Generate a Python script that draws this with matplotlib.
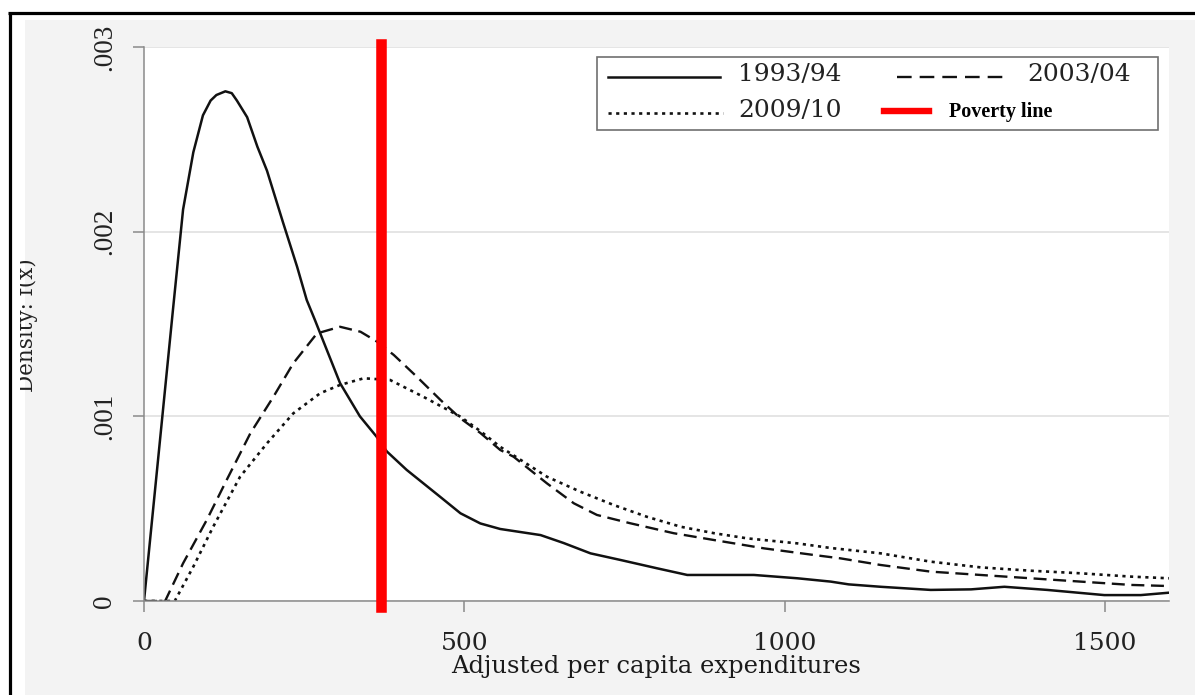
import matplotlib
matplotlib.use("Agg")
import matplotlib.pyplot as plt
from matplotlib.lines import Line2D
from matplotlib.patches import Rectangle
from matplotlib.transforms import Bbox, TransformedBbox

# ---- kernel density estimates of adjusted per capita expenditures ----
x_1993 = [0, 45, 61, 77, 92, 104, 113, 127, 137, 145, 161, 177, 192, 217, 239,
          254, 267, 275, 306, 337, 363, 379, 410, 462, 494, 525, 556, 619, 655,
          697, 744, 801, 848, 900, 952, 1020, 1072, 1100, 1150, 1228, 1291,
          1343, 1410, 1499, 1556, 1600]
d_1993 = [0, 0.00157, 0.00212, 0.00243, 0.00263, 0.00271, 0.00274, 0.00276,
          0.00275, 0.00271, 0.00262, 0.00246, 0.00233, 0.00205, 0.00181,
          0.00163, 0.00152, 0.00145, 0.00118, 0.00100, 0.00089, 0.00081,
          0.00071, 0.000565, 0.000475, 0.00042, 0.00039, 0.000357, 0.000314,
          0.000258, 0.000222, 0.000177, 0.000141, 0.000141, 0.000141, 0.000123,
          0.000105, 0.00009, 0.000077, 0.00006, 0.000063, 0.000077, 0.00006,
          0.000032, 0.000032, 0.000045]

x_2003 = [0, 33, 61, 98, 129, 166, 202, 233, 270, 306, 338, 364, 390, 426,
          463, 494, 525, 556, 577, 629, 671, 707, 759, 827, 890, 968, 1046,
          1087, 1150, 1228, 1306, 1384, 1462, 1541, 1600]
d_2003 = [0, 0, 0.000204, 0.000439, 0.000655, 0.000908, 0.001106, 0.001287,
          0.001449, 0.001485, 0.001458, 0.001404, 0.001332, 0.001214, 0.001088,
          0.000989, 0.00091, 0.000818, 0.000781, 0.000637, 0.000529, 0.000466,
          0.000421, 0.000367, 0.00033, 0.000285, 0.000249, 0.000231, 0.000195,
          0.000159, 0.000141, 0.000123, 0.000105, 0.000087, 0.000081]

x_2009 = [0, 48, 77, 108, 150, 192, 233, 275, 306, 343, 384, 436, 494, 525,
          556, 629, 681, 733, 785, 838, 890, 942, 1020, 1072, 1150, 1228, 1306,
          1384, 1462, 1541, 1600]
d_2009 = [0, 0, 0.000186, 0.000402, 0.000673, 0.000854, 0.001016, 0.001125,
          0.00117, 0.001206, 0.001197, 0.001106, 0.000998, 0.00092, 0.000835,
          0.000673, 0.000592, 0.00052, 0.000456, 0.000402, 0.000367, 0.000339,
          0.000312, 0.000287, 0.000258, 0.000213, 0.000182, 0.000164, 0.00015,
          0.000132, 0.000123]

poverty_line = 370

series_labels = ["1993/94", "2003/04", "2009/10"]
poverty_label = "Poverty line"
x_ticks = [0, 500, 1000, 1500]
y_ticks = [0, 0.001, 0.002, 0.003]
y_tick_labels = ["0", ".001", ".002", ".003"]
x_title = "Adjusted per capita expenditures"
y_title = "Density: f(x)"

# ---- figure canvas ----
W, H = 1195, 695
fig = plt.figure(figsize=(W / 100, H / 100), dpi=100, facecolor="white")

# light grey backdrop and black frame
fig.add_artist(Rectangle((25 / W, 0), 1 - 25 / W, 1 - 20 / H,
                         transform=fig.transFigure, facecolor="#f3f3f3",
                         edgecolor="none", zorder=-1))
fig.add_artist(Line2D([8 / W, 1], [1 - 12.5 / H] * 2, color="black",
                      lw=2.3, solid_capstyle="butt", zorder=10))
fig.add_artist(Line2D([9.5 / W] * 2, [0, 1 - 12.5 / H], color="black",
                      lw=2.3, solid_capstyle="butt", zorder=10))

ax_l, ax_r, ax_t, ax_b = 144, 1169, 47, 601
ax = fig.add_axes([ax_l / W, 1 - ax_b / H, (ax_r - ax_l) / W, (ax_b - ax_t) / H])
ax.set_facecolor("white")

ink = "#111111"
line_1993, = ax.plot(x_1993, d_1993, color=ink, lw=1.8, solid_joinstyle="round",
                     label=series_labels[0])
line_2003, = ax.plot(x_2003, d_2003, color=ink, lw=1.7,
                     linestyle=(0, (5.5, 2.8)), label=series_labels[1])
line_2009, = ax.plot(x_2009, d_2009, color=ink, lw=1.9,
                     linestyle=(0, (1.2, 1.7)), label=series_labels[2])
ax.axvline(poverty_line, ymin=-0.011, ymax=1.0054, color="#ff0000", lw=7.6,
           clip_on=False, zorder=6)

ax.set_xlim(0, 1600)
ax.set_ylim(0, 0.003)

# axes styling
for side in ("top", "right"):
    ax.spines[side].set_visible(False)
for side in ("left", "bottom"):
    ax.spines[side].set_color("#8a8a8a")
    ax.spines[side].set_linewidth(1.1)
ax.grid(axis="y", color="#e3e3e3", lw=1.3)
ax.set_axisbelow(True)

ax.set_xticks(x_ticks)
ax.set_xticklabels([str(v) for v in x_ticks], family="DejaVu Serif",
                   fontsize=18, color="#222222")
ax.tick_params(axis="x", direction="out", length=7.9, width=1.1,
               color="#8a8a8a", pad=14.2)

ax.set_yticks(y_ticks)
ax.set_yticklabels(y_tick_labels, family="Liberation Serif", fontsize=19.5,
                   color="#222222", rotation=90)
for lab in ax.get_yticklabels():
    lab.set_va("center")
ax.tick_params(axis="y", direction="out", length=8.2, width=1.1,
               color="#8a8a8a", pad=11)

ax.set_xlabel(x_title, family="DejaVu Serif", fontsize=17.5, color="#1a1a1a")
ax.xaxis.set_label_coords(0.5, -0.0975)

# y title, partly cut by the frame on the left
ylab = fig.text(38 / W, 1 - 325 / H, y_title, rotation=90, ha="right",
                va="center", family="DejaVu Serif", fontsize=15.5,
                color="#222222")
ylab.set_clip_on(True)
ylab.set_clip_box(TransformedBbox(Bbox([[20 / W, 0], [1, 1]]), fig.transFigure))

# ---- legend box ----
def fx(px):
    return (px - ax_l) / (ax_r - ax_l)


def fy(py):
    return (ax_b - py) / (ax_b - ax_t)


ta = ax.transAxes
ax.add_patch(Rectangle((fx(597), fy(129.5)), fx(1158) - fx(597),
                       fy(56.5) - fy(129.5), transform=ta, facecolor="white",
                       edgecolor="#707070", lw=1.2, zorder=7, clip_on=False))

row1, row2 = fy(76.7), fy(112.7)
leg_font = dict(family="DejaVu Serif", fontsize=18, color="#222222",
                va="center", ha="left", transform=ta, zorder=8)

for src, (x0, x1), y, tx, label in [
        (line_1993, (608, 720), row1, 738, series_labels[0]),
        (line_2003, (897, 1010), row1, 1027.5, series_labels[1]),
        (line_2009, (608, 723), row2, 738, series_labels[2])]:
    sample = Line2D([fx(x0), fx(x1)], [y, y], transform=ta, color=ink,
                    lw=src.get_linewidth(), zorder=8, clip_on=False)
    if src is line_2003:
        sample.set_linestyle((0, (6.2, 3.4)))
    elif src is line_2009:
        sample.set_linestyle((0, (1.2, 1.7)))
    ax.add_line(sample)
    ax.text(fx(tx), y + 0.004, label, **leg_font)

ax.add_line(Line2D([fx(884), fx(929)], [fy(110.5)] * 2, transform=ta,
                   color="#ff0000", lw=4.6, zorder=8, clip_on=False))
ax.text(fx(949), fy(112), poverty_label, family="Liberation Serif",
        fontweight="bold", fontsize=14.5, color="black", va="center",
        ha="left", transform=ta, zorder=8)

fig.savefig("out.png", dpi=100, facecolor=fig.get_facecolor())
